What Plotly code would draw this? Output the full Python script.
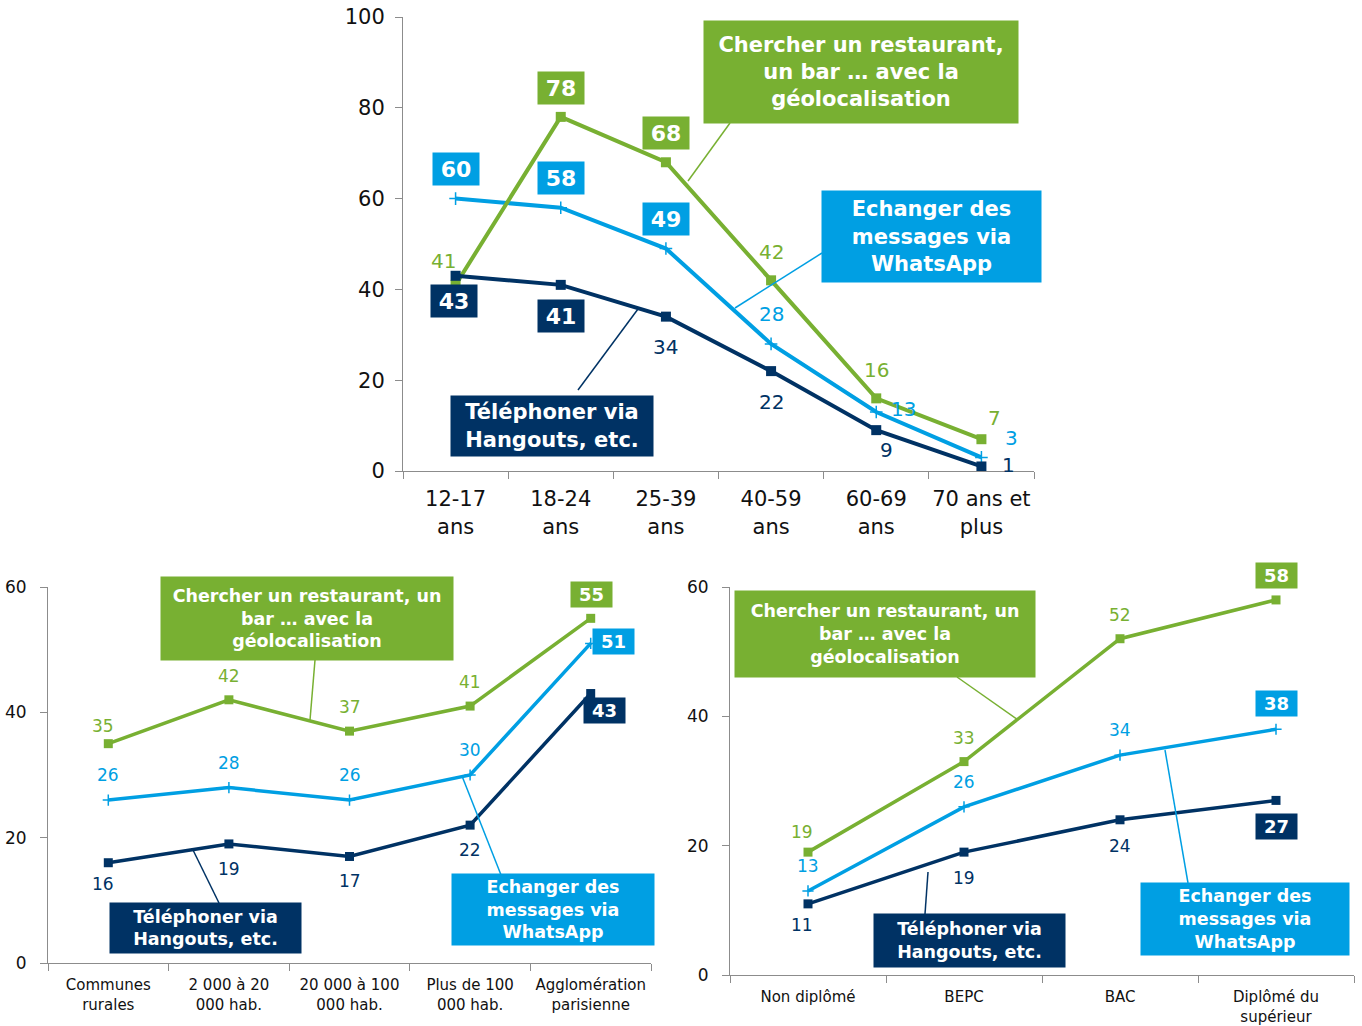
import plotly.graph_objects as go

W, H = 1362, 1026

# ---------------- DATA ----------------
age_cats = ["12-17<br>ans", "18-24<br>ans", "25-39<br>ans", "40-59<br>ans", "60-69<br>ans", "70 ans et<br>plus"]
age_geo = [41, 78, 68, 42, 16, 7]
age_whatsapp = [60, 58, 49, 28, 13, 3]
age_hangouts = [43, 41, 34, 22, 9, 1]

city_cats = ["Communes<br>rurales", "2 000 à 20<br>000 hab.", "20 000 à 100<br>000 hab.", "Plus de 100<br>000 hab.", "Agglomération<br>parisienne"]
city_geo = [35, 42, 37, 41, 55]
city_whatsapp = [26, 28, 26, 30, 51]
city_hangouts = [16, 19, 17, 22, 43]

edu_cats = ["Non diplômé", "BEPC", "BAC", "Diplômé du<br>supérieur"]
edu_geo = [19, 33, 52, 58]
edu_whatsapp = [13, 26, 34, 38]
edu_hangouts = [11, 19, 24, 27]

lbl_geo = "Chercher un restaurant,<br>un bar … avec la<br>géolocalisation"
lbl_geo_small = "Chercher un restaurant, un<br>bar … avec la<br>géolocalisation"
lbl_whatsapp = "Echanger des<br>messages via<br>WhatsApp"
lbl_hangouts = "Téléphoner via<br>Hangouts, etc."

# ---------------- STYLE ----------------
GREEN = "#78B032"
BLUE = "#009FE3"
NAVY = "#003264"
AXIS = "#8C8C8C"
FONT = "DejaVu Sans"


def px(x):
    return x / W


def py(y):
    return 1 - y / H


fig = go.Figure()

panels = [
    ("", age_cats, age_geo, age_whatsapp, age_hangouts, 4, 10),
    ("2", city_cats, city_geo, city_whatsapp, city_hangouts, 3.5, 9),
    ("3", edu_cats, edu_geo, edu_whatsapp, edu_hangouts, 3.5, 9),
]

for suf, cats, geo, wa, hg, lw, ms in panels:
    xa, ya = "x" + suf, "y" + suf
    fig.add_trace(go.Scatter(x=cats, y=wa, mode="lines+markers", xaxis=xa, yaxis=ya,
                             line=dict(color=BLUE, width=lw),
                             marker=dict(symbol="cross-thin-open", size=ms - 1,
                                         line=dict(color=BLUE, width=1.5)),
                             showlegend=False, hoverinfo="skip"))
    fig.add_trace(go.Scatter(x=cats, y=geo, mode="lines+markers", xaxis=xa, yaxis=ya,
                             line=dict(color=GREEN, width=lw),
                             marker=dict(symbol="square", size=ms, color=GREEN),
                             showlegend=False, hoverinfo="skip"))
    fig.add_trace(go.Scatter(x=cats, y=hg, mode="lines+markers", xaxis=xa, yaxis=ya,
                             line=dict(color=NAVY, width=lw),
                             marker=dict(symbol="square", size=ms, color=NAVY),
                             showlegend=False, hoverinfo="skip"))

annotations = []


def add_labels(suf, values, color, offsets, boxed, size_plain, size_box, box_w, box_h):
    xa, ya = "x" + suf, "y" + suf
    for i, v in enumerate(values):
        dx, dy = offsets[i]
        if boxed[i]:
            annotations.append(dict(x=i, y=v, xref=xa, yref=ya, text="<b>%d</b>" % v,
                                    showarrow=False, xshift=dx, yshift=dy,
                                    font=dict(family=FONT, size=size_box, color="white"),
                                    bgcolor=color, borderpad=4, width=box_w, height=box_h))
        else:
            annotations.append(dict(x=i, y=v, xref=xa, yref=ya, text="%d" % v,
                                    showarrow=False, xshift=dx, yshift=dy,
                                    font=dict(family=FONT, size=size_plain, color=color)))


# top panel labels
add_labels("", age_geo, GREEN, [(-12, 24), (0, 29), (0, 29), (0, 28), (0, 28), (13, 21)],
           [0, 1, 1, 0, 0, 0], 20, 22, 38, 24)
add_labels("", age_whatsapp, BLUE, [(0, 30), (0, 30), (0, 30), (0, 30), (27, 3), (30, 19)],
           [1, 1, 1, 0, 0, 0], 20, 22, 38, 24)
add_labels("", age_hangouts, NAVY, [(-2, -25), (0, -31), (0, -30), (0, -31), (10, -20), (27, 1)],
           [1, 1, 0, 0, 0, 0], 20, 22, 38, 24)

# bottom-left labels
add_labels("2", city_geo, GREEN, [(-5, 18), (0, 24), (0, 24), (0, 24), (1, 24)],
           [0, 0, 0, 0, 1], 17, 18, 33, 17)
add_labels("2", city_whatsapp, BLUE, [(0, 25), (0, 25), (0, 25), (0, 25), (23, 2)],
           [0, 0, 0, 0, 1], 17, 18, 33, 17)
add_labels("2", city_hangouts, NAVY, [(-5, -21), (0, -25), (0, -25), (0, -25), (14, -17)],
           [0, 0, 0, 0, 1], 17, 18, 33, 17)

# bottom-right labels
add_labels("3", edu_geo, GREEN, [(-6, 20), (0, 24), (0, 24), (0, 24)],
           [0, 0, 0, 1], 17, 18, 33, 17)
add_labels("3", edu_whatsapp, BLUE, [(0, 25), (0, 25), (0, 25), (0, 26)],
           [0, 0, 0, 1], 17, 18, 33, 17)
add_labels("3", edu_hangouts, NAVY, [(-6, -21), (0, -26), (0, -26), (0, -26)],
           [0, 0, 0, 1], 17, 18, 33, 17)


def callout(text, color, x0, y0, x1, y1, size):
    pad = 2
    annotations.append(dict(x=px((x0 + x1) / 2), y=py((y0 + y1) / 2), xref="paper", yref="paper",
                            xanchor="center", yanchor="middle", text="<b>%s</b>" % text,
                            showarrow=False, align="center",
                            font=dict(family=FONT, size=size, color="white"),
                            bgcolor=color, borderpad=pad,
                            width=(x1 - x0) - 2 * pad, height=(y1 - y0) - 2 * pad))


callout(lbl_geo, GREEN, 704, 21, 1018, 123, 21)
callout(lbl_whatsapp, BLUE, 822, 191, 1041, 282, 21)
callout(lbl_hangouts, NAVY, 451, 396, 653, 456, 21)
callout(lbl_geo_small, GREEN, 161, 577, 453, 660, 17.5)
callout(lbl_whatsapp, BLUE, 452, 874, 654, 945, 17.5)
callout(lbl_hangouts, NAVY, 110, 903, 301, 953, 17.5)
callout(lbl_geo_small, GREEN, 735, 591, 1035, 677, 17.5)
callout(lbl_whatsapp, BLUE, 1141, 883, 1349, 955, 17.5)
callout(lbl_hangouts, NAVY, 874, 914, 1065, 967, 17.5)

shapes = []


def leader(color, x0, y0, x1, y1, w=1.5):
    shapes.append(dict(type="line", xref="paper", yref="paper",
                       x0=px(x0), y0=py(y0), x1=px(x1), y1=py(y1),
                       line=dict(color=color, width=w)))


leader(GREEN, 730, 123, 688, 181)
leader(BLUE, 822, 253, 735, 308)
leader(NAVY, 578, 390, 638, 309)
leader(GREEN, 315, 660, 310, 720)
leader(BLUE, 462, 776, 503, 880)
leader(NAVY, 193, 850, 219, 903)
leader(GREEN, 957, 677, 1018, 720)
leader(BLUE, 1165, 750, 1188, 883)
leader(NAVY, 928, 872, 925, 914)


def xaxis(domain, n, anchor, size, standoff):
    return dict(domain=domain, anchor=anchor, type="category", range=[-0.5, n - 0.5],
                showline=True, linecolor=AXIS, linewidth=1, ticks="outside", tickson="boundaries",
                ticklen=7, tickcolor=AXIS, showgrid=False, zeroline=False, automargin=False,
                ticklabelstandoff=standoff, tickangle=0,
                tickfont=dict(family=FONT, size=size, color="#111"), fixedrange=True)


def yaxis(domain, rng, anchor, size, standoff):
    return dict(domain=domain, anchor=anchor, range=rng, dtick=20, tick0=0,
                showline=True, linecolor=AXIS, linewidth=1, ticks="outside", ticklen=7,
                tickcolor=AXIS, showgrid=False, zeroline=False, ticklabelstandoff=standoff,
                automargin=False,
                tickfont=dict(family=FONT, size=size, color="#111"), fixedrange=True)


fig.update_layout(
    width=W, height=H, margin=dict(l=0, r=0, t=0, b=0, autoexpand=False),
    paper_bgcolor="white", plot_bgcolor="white",
    font=dict(family=FONT),
    xaxis=xaxis([px(403), px(1034)], len(age_cats), "y", 21, 9),
    yaxis=yaxis([py(471), py(17)], [0, 100], "x", 21, 6),
    xaxis2=xaxis([px(48), px(651)], len(city_cats), "y2", 15, 8),
    yaxis2=yaxis([py(963), py(587)], [0, 60], "x2", 17, 10),
    xaxis3=xaxis([px(730), px(1354)], len(edu_cats), "y3", 15, 8),
    yaxis3=yaxis([py(975), py(587)], [0, 60], "x3", 17, 10),
    annotations=annotations, shapes=shapes,
)

fig.write_html("out.html", post_script="document.body.style.margin='0';",
               config={"displayModeBar": False})
